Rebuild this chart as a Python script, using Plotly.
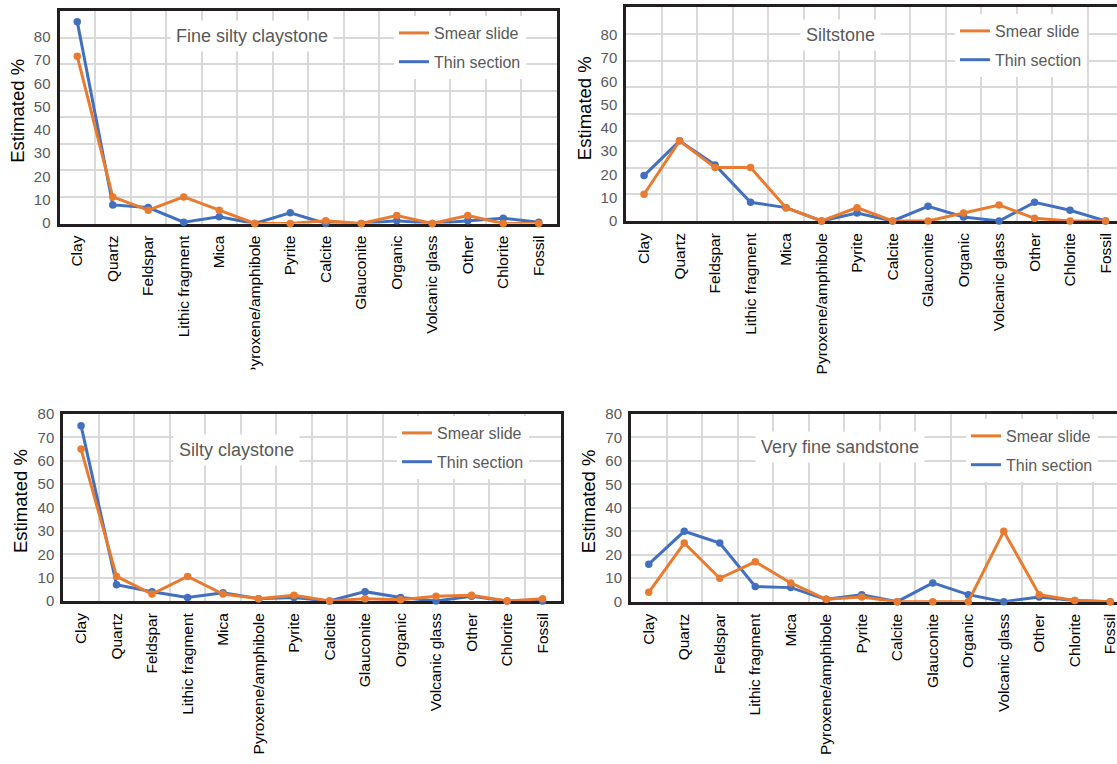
import plotly.graph_objects as go

# ---- data -------------------------------------------------------------
categories = ["Clay", "Quartz", "Feldspar", "Lithic fragment", "Mica",
              "Pyroxene/amphibole", "Pyrite", "Calcite", "Glauconite",
              "Organic", "Volcanic glass", "Other", "Chlorite", "Fossil"]

y_ticks = [0, 10, 20, 30, 40, 50, 60, 70, 80]

fine_silty_smear = [63, 10, 5, 10, 5, 0, 0, 1, 0, 3, 0, 3, 0, 0]
fine_silty_thin = [76, 7, 6, 0.5, 2.5, 0, 4, 0, 0, 1, 0, 1, 2, 0.5]

siltstone_smear = [10, 30, 20, 20, 5, 0, 5, 0, 0, 3, 6, 1, 0, 0]
siltstone_thin = [17, 30, 21, 7, 5, 0, 3, 0, 5.5, 1.5, 0, 7, 4, 0]

silty_clay_smear = [65, 10.5, 3, 10.5, 3, 1, 2.5, 0, 1, 0.5, 2, 2.5, 0, 1]
silty_clay_thin = [75, 7, 4, 1.5, 3.5, 1, 1.5, 0, 4, 1.5, 0, 2, 0, 0]

sandstone_smear = [4, 25, 10, 17, 8, 1, 2, 0, 0, 0, 30, 3, 0.5, 0]
sandstone_thin = [16, 30, 25, 6.5, 6, 1, 3, 0, 8, 3, 0, 2, 0.5, 0]

# ---- styling ----------------------------------------------------------
W, H = 1117, 764
ORANGE = "#E97B30"
BLUE = "#4270BE"
FRAME = "#231F20"
GRID = "#D9D9D9"
GREY_TXT = "#595959"
FONT = "Liberation Sans, Arial, Helvetica, sans-serif"


def px_x(v):
    return v / W


def px_y(v):
    return 1 - v / H


# per-panel layout: plot box in pixels (left, top, right, bottom),
# range of the printed tick-label scale, legend/title anchors
panels = [
    dict(title="Fine silty claystone", smear=fine_silty_smear, thin=fine_silty_thin,
         box=(59.5, 11, 557, 223.5), label_range=[-0.3, 91.2], right_frame=True,
         title_xy=(252, 36), legend_xy=(394, 16), ytitle_x=17.5),
    dict(title="Siltstone", smear=siltstone_smear, thin=siltstone_thin,
         box=(626.3, 7.3, 1117, 221), label_range=[0, 91.9], right_frame=False,
         title_xy=(840, 35), legend_xy=(955, 14), ytitle_x=584),
    dict(title="Silty claystone", smear=silty_clay_smear, thin=silty_clay_thin,
         box=(63.3, 414, 561, 601), label_range=[0, 80], right_frame=True,
         title_xy=(236, 450), legend_xy=(397, 416), ytitle_x=20.5),
    dict(title="Very fine sandstone", smear=sandstone_smear, thin=sandstone_thin,
         box=(631, 414, 1117, 601.7), label_range=[0, 80], right_frame=False,
         title_xy=(840, 446.5), legend_xy=(966, 419), ytitle_x=588.5),
]

STEP = 35.5  # pixel width of one category slot

fig = go.Figure()
layout = dict(
    width=W, height=H,
    margin=dict(l=0, r=0, t=0, b=0, pad=0, autoexpand=False),
    paper_bgcolor="white", plot_bgcolor="white",
    font=dict(family=FONT),
    showlegend=True,
    annotations=[],
    shapes=[],
)

xs = list(range(len(categories)))

for i, p in enumerate(panels, start=1):
    left, top, right, bottom = p["box"]
    xname, yname, lname = f"x{i}", f"y{i}", f"y{i + 4}"
    xkey = "xaxis" if i == 1 else f"xaxis{i}"
    ykey = "yaxis" if i == 1 else f"yaxis{i}"
    lkey = f"yaxis{i + 4}"
    legend_key = "legend" if i == 1 else f"legend{i}"
    xref = "x" if i == 1 else xname
    yref = "y" if i == 1 else yname

    x_max = -0.5 + (right - left) / STEP

    layout[xkey] = dict(
        domain=[px_x(left), px_x(right)], anchor=yref, automargin=False,
        range=[-0.5, x_max], tickmode="array", tickvals=xs, ticktext=categories,
        tickangle=-90, ticks="", showgrid=False, zeroline=False,
        minor=dict(tickmode="linear", tick0=0.5, dtick=1, showgrid=True,
                   gridcolor=GRID, gridwidth=1.5, ticks=""),
        showline=True, linecolor=FRAME, linewidth=2.8, mirror=True,
        tickfont=dict(family=FONT, size=15.5, color="black"),
        ticklabelstandoff=3, ticklabeloverflow="allow",
        layer="below traces", fixedrange=True,
    )
    layout[ykey] = dict(
        domain=[px_y(bottom), px_y(top)], anchor=xref, automargin=False,
        range=[0, 80], tickmode="linear", tick0=0, dtick=10,
        showticklabels=False, ticks="", showgrid=True, gridcolor=GRID, gridwidth=1.5,
        zeroline=False, showline=True, linecolor=FRAME, linewidth=2.8,
        mirror=p["right_frame"], layer="below traces", fixedrange=True,
    )
    # printed value scale on the left edge
    layout[lkey] = dict(
        overlaying=yref, anchor=xref, side="left", automargin=False,
        range=p["label_range"], tickmode="array", tickvals=y_ticks,
        showgrid=False, zeroline=False, showline=False, ticks="",
        tickfont=dict(family=FONT, size=15, color=GREY_TXT),
        ticklabelstandoff=8, ticklabeloverflow="allow", fixedrange=True,
    )

    fig.add_trace(go.Scatter(x=[], y=[], xaxis=xref, yaxis=lname,
                             showlegend=False, hoverinfo="skip"))

    for name, vals, color, rank in (("Thin section", p["thin"], BLUE, 2),
                                    ("Smear slide", p["smear"], ORANGE, 1)):
        fig.add_trace(go.Scatter(
            x=xs, y=vals, xaxis=xref, yaxis=yref, mode="lines",
            line=dict(color=color, width=3), name=name,
            legend=legend_key, legendrank=rank, legendgroup=f"{name}{i}",
            cliponaxis=False,
        ))
        fig.add_trace(go.Scatter(
            x=xs, y=vals, xaxis=xref, yaxis=yref, mode="markers",
            marker=dict(color=color, size=7.5), name=name,
            showlegend=False, cliponaxis=False,
        ))

    lx, ly = p["legend_xy"]
    layout[legend_key] = dict(
        x=px_x(lx), y=px_y(ly), xanchor="left", yanchor="top",
        bgcolor="white", borderwidth=0, tracegroupgap=5,
        font=dict(family=FONT, size=16, color=GREY_TXT),
        itemwidth=30, itemclick=False, itemdoubleclick=False,
    )

    tx, ty = p["title_xy"]
    layout["annotations"].append(dict(
        text=p["title"], xref="paper", yref="paper", x=px_x(tx), y=px_y(ty),
        xanchor="center", yanchor="middle", showarrow=False,
        bgcolor="white", borderpad=5,
        font=dict(family=FONT, size=18, color=GREY_TXT),
    ))
    layout["annotations"].append(dict(
        text="Estimated %", xref="paper", yref="paper",
        x=px_x(p["ytitle_x"]), y=px_y((top + bottom) / 2 - 6),
        xanchor="center", yanchor="middle", textangle=-90, showarrow=False,
        font=dict(family=FONT, size=18.5, color="black"),
    ))

# the upper-left panel's artwork ends just above the first letter of its
# longest category label
layout["shapes"].append(dict(
    type="rect", xref="paper", yref="paper", layer="above",
    x0=0, x1=px_x(580), y0=px_y(386), y1=px_y(369.5),
    fillcolor="white", line=dict(width=0),
))

fig.update_layout(**layout)
fig.write_html("out.html")
